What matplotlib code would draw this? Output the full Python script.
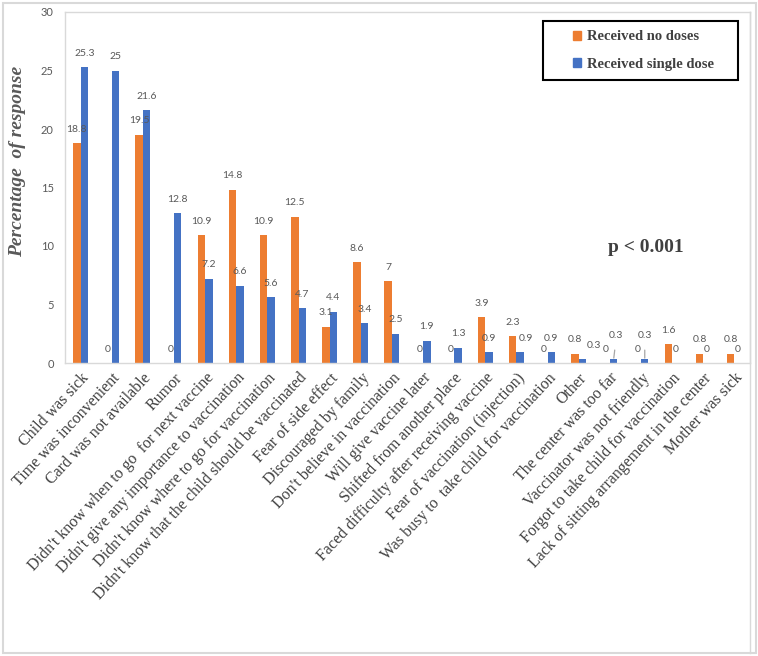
import numpy as np
import matplotlib
matplotlib.use('Agg')
import matplotlib.pyplot as plt
from matplotlib.patches import Rectangle, Patch
from matplotlib.lines import Line2D

# reasons for missed vaccination, % of response
reasons = [
    "Child was sick",
    "Time was inconvenient",
    "Card was not available",
    "Rumor",
    "Didn't know when to go  for next vaccine",
    "Didn't give any importance to vaccination",
    "Didn't know where to go for vaccination",
    "Didn't know that the child should be vaccinated",
    "Fear of side effect",
    "Discouraged by family",
    "Don't believe in vaccination",
    "Will give vaccine later",
    "Shifted from another place",
    "Faced difficulty after receiving vaccine",
    "Fear of vaccination (injection)",
    "Was busy to  take child for vaccination",
    "Other",
    "The center was too far",
    "Vaccinator was not friendly",
    "Forgot to take child for vaccination",
    "Lack of sitting arrangement in the center",
    "Mother was sick",
]
no_doses = [18.8, 0, 19.5, 0, 10.9, 14.8, 10.9, 12.5, 3.1, 8.6, 7, 0, 0, 3.9, 2.3, 0, 0.8, 0, 0, 1.6, 0.8, 0.8]
single_dose = [25.3, 25, 21.6, 12.8, 7.2, 6.6, 5.6, 4.7, 4.4, 3.4, 2.5, 1.9, 1.3, 0.9, 0.9, 0.9, 0.3, 0.3, 0.3, 0, 0, 0]
series_names = ["Received no doses", "Received single dose"]

orange = '#ED7D31'
blue = '#4472C4'
grey = '#595959'
frame = '#D9D9D9'

fig = plt.figure(figsize=(7.58, 6.56), dpi=100)
ax = fig.add_axes([65/758, 1 - 363/656, 685/758, 351/656])

x = np.arange(len(reasons))
w = 0.24
b1 = ax.bar(x - w/2, no_doses, w, color=orange)
b2 = ax.bar(x + w/2, single_dose, w, color=blue)

lab_font = dict(family='Lato', size=7.5, color=grey)
# a few labels are nudged the way the original chart has them
nudge_blue = {14: (4, 10), 16: (8, 10)}
leader_blue = {17: (2, 17), 18: (0, 17)}
for i, v in enumerate(no_doses):
    ax.annotate(f"{v:g}", (x[i] - w/2, v), xytext=(0, 10), textcoords='offset points',
                ha='center', va='center', **lab_font)
for i, v in enumerate(single_dose):
    if i in leader_blue:
        ax.annotate(f"{v:g}", (x[i] + w/2, v), xytext=leader_blue[i], textcoords='offset points',
                    ha='center', va='center',
                    arrowprops=dict(arrowstyle='-', color='#A6A6A6', lw=0.9, shrinkA=5, shrinkB=1),
                    **lab_font)
    else:
        ax.annotate(f"{v:g}", (x[i] + w/2, v), xytext=nudge_blue.get(i, (0, 10)),
                    textcoords='offset points', ha='center', va='center', **lab_font)

ax.set_xlim(-0.5, len(reasons) - 0.5)
ax.set_ylim(0, 30)
ax.set_yticks(range(0, 31, 5))
ax.tick_params(axis='y', length=0, pad=8, labelsize=8, labelcolor=grey)
for t in ax.get_yticklabels():
    t.set_family('Lato')
ax.set_xticks(x)
ax.set_xticklabels(reasons, rotation=47, ha='right', va='top', rotation_mode='anchor',
                   family='Liberation Serif', fontsize=11.5, color='#404040')
ax.tick_params(axis='x', length=0, pad=5)

for s in ax.spines.values():
    s.set_color(frame)
    s.set_linewidth(1.0)

ax.set_ylabel("Percentage  of response", family='Liberation Serif', fontsize=14,
              fontweight='bold', style='italic', color=grey)
ax.yaxis.set_label_coords(-0.057, 0.575)

# legend with its own box
ax.add_patch(Rectangle((0.698, 0.806), 0.2845, 0.168, transform=ax.transAxes,
                       fill=False, edgecolor='black', lw=1.5, zorder=5))
handles = [Patch(color=orange), Patch(color=blue)]
leg = ax.legend(handles, series_names, loc='center', bbox_to_anchor=(0.845, 0.89),
                frameon=False, prop=dict(family='Liberation Serif', weight='bold', size=10.5),
                handlelength=0.55, handleheight=0.55, handletextpad=0.4, labelspacing=1.0,
                labelcolor='#404040')

ax.text(0.848, 0.33, "p < 0.001", transform=ax.transAxes, ha='center', va='center',
        family='Liberation Serif', fontweight='bold', fontsize=14, color='#404040')

# outer chart border and the frame line on the right
fig.patches.append(Rectangle((3/758, 3/656), 753/758, 650/656, transform=fig.transFigure,
                             fill=False, edgecolor=frame, lw=1.5))
fig.lines.append(Line2D([750/758, 750/758], [3/656, 1 - 12/656], transform=fig.transFigure,
                        color=frame, lw=1.0))

fig.savefig('out.png', dpi=100)
